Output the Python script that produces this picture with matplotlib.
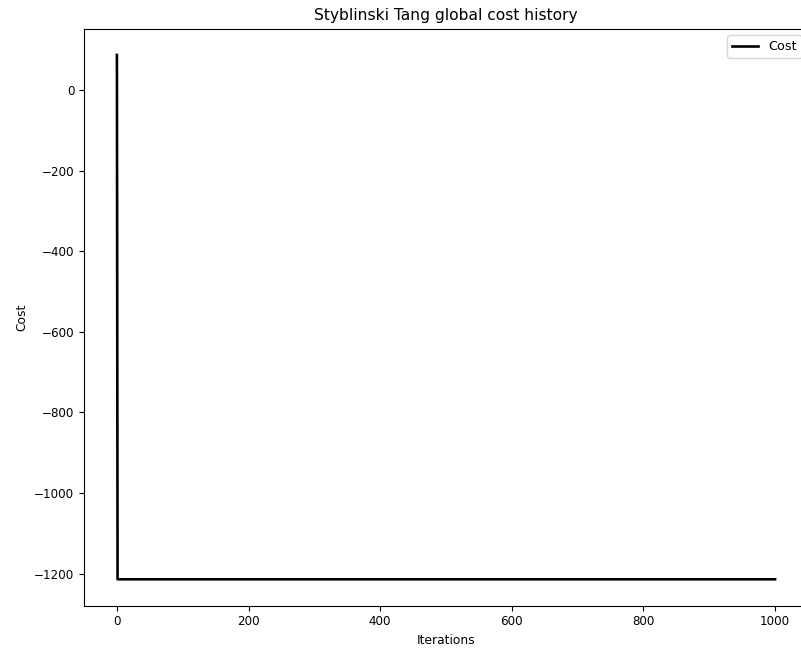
import numpy as np
import matplotlib
matplotlib.use("Agg")
import matplotlib.pyplot as plt

# Cost recorded at each iteration of the optimiser
initial_cost = [87.0]
converged_cost = -1214.2
n_iterations = 1001

iterations = np.arange(n_iterations)
cost = np.array(initial_cost + [converged_cost] * (n_iterations - len(initial_cost)))

W, H = 801, 649
fig = plt.figure(figsize=(W / 100, H / 100), dpi=100)
left, right = 84 / W, 808 / W
top, bottom = 1 - 28.7 / H, 1 - 605.5 / H
ax = fig.add_axes([left, bottom, right - left, top - bottom])

ax.plot(iterations, cost, color="black", linewidth=1.9, label="Cost")
ax.set_title("Styblinski Tang global cost history", fontsize=11.2)
ax.set_xlabel("Iterations", fontsize=8.8)
ax.set_ylabel("Cost", fontsize=8.8)
ax.tick_params(labelsize=8.6)
ax.legend(loc="upper right", fontsize=9.2)

fig.savefig("out.png", dpi=100)
